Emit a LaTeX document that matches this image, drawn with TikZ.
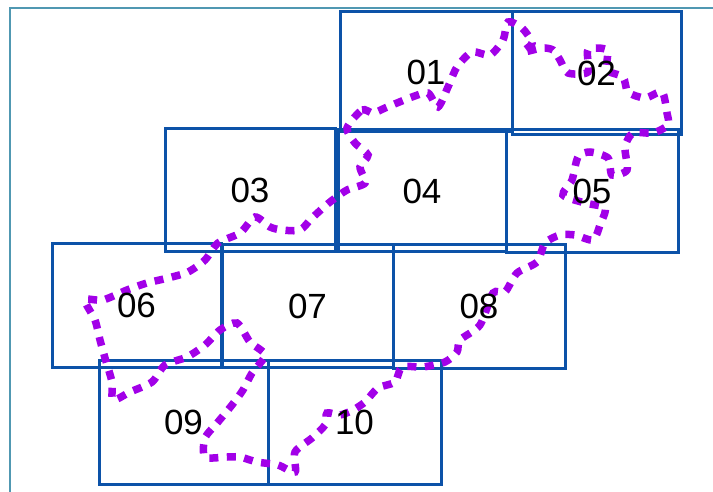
\documentclass[tikz,border=0pt]{standalone}
\usepackage{fontspec}
\setmainfont{Liberation Sans}
\usepackage{tikz}
\usetikzlibrary{positioning}
\usepackage{xcolor}
\definecolor{cellblue}{RGB}{12,82,168}
\definecolor{framegray}{RGB}{80,152,178}
\definecolor{trackviolet}{RGB}{162,0,232}

\begin{document}
\begin{tikzpicture}[
    x=1pt, y=-1pt,
    cell/.style={rectangle, draw=cellblue, line width=3pt, fill=none,
                 minimum width=170pt, minimum height=123pt, inner sep=0pt},
    tag/.style={font=\fontsize{35}{40}\selectfont, inner sep=0pt},
    track/.style={draw=trackviolet, line width=7.5pt, dash pattern=on 9pt off 8.5pt},
    frame/.style={draw=framegray, line width=2.6pt}
]
\useasboundingbox (0,0) rectangle (713,492);
\draw[frame] (10,492) -- (10,8) -- (713,8);
% cells, row by row
\node[cell, minimum width=172pt, minimum height=120pt] (c01) at (426,72) {};
\node[cell, minimum width=169pt] (c02) at (596.5,73.5) {};
\node[cell] (c03) at (250,190.5) {};
\node[cell, minimum width=168pt, minimum height=122pt] (c04) at (422,191) {};
\node[cell, minimum width=172pt] (c05) at (592,191.5) {};
\node[cell, minimum width=169pt] (c06) at (136.5,305.5) {};
\node[cell, minimum width=171pt, minimum height=122pt] (c07) at (307.5,306) {};
\node[cell, minimum width=172pt] (c08) at (479,306.5) {};
\node[cell, minimum width=169pt, minimum height=124pt] (c09) at (183.5,422) {};
\node[cell, minimum width=173pt, minimum height=124pt] (c10) at (354.5,422) {};
% the track
\draw[track] plot[smooth cycle, tension=0.45] coordinates {
  (347,128) (362,110) (373,113) (385,108) (397,103) (412,97) (428,93)
  (438,107) (448,87) (457,67) (472,52) (490,55) (503,40) (508,22)
  (522,28) (532,43) (523,52) (542,48) (553,50) (560,60) (568,73)
  (588,72) (588,50) (607,50) (607,70) (623,77) (628,92) (645,98)
  (662,92) (667,113) (668,125) (653,133) (633,133) (625,147) (627,170)
  (612,175) (608,158) (590,152) (578,157) (572,180) (563,195) (585,203)
  (605,208) (600,225) (593,240) (575,235) (560,235) (545,243) (537,262)
  (517,273) (505,292) (493,293) (480,325) (460,340) (457,352) (445,362)
  (423,367) (402,367) (395,382) (378,388) (365,402) (353,410) (340,415)
  (327,413) (325,425) (312,438) (295,452) (295,472) (278,465) (257,462)
  (240,457) (227,457) (205,457) (205,438) (218,422) (232,405) (243,390)
  (252,373) (265,355) (250,342) (237,323) (220,330) (205,345) (187,357)
  (165,365) (152,382) (130,392) (113,400) (112,382) (105,358) (100,340)
  (95,320) (85,300) (103,300) (127,290) (147,283) (168,278) (188,272)
  (205,260) (218,243) (240,233) (255,217) (270,227) (282,230) (300,230)
  (312,218) (330,202) (347,190) (365,183) (360,167) (368,155) (355,143)};
% labels
\node[tag] (t01) at (c01) {01};
\node[tag] (t02) at (c02) {02};
\node[tag] (t03) at (c03) {03};
\node[tag] (t04) at (c04) {04};
\node[tag] (t05) at (c05) {05};
\node[tag] (t06) at (c06) {06};
\node[tag] (t07) at (c07) {07};
\node[tag] (t08) at (c08) {08};
\node[tag] (t09) at (c09) {09};
\node[tag] (t10) at (c10) {10};
\end{tikzpicture}
\end{document}
